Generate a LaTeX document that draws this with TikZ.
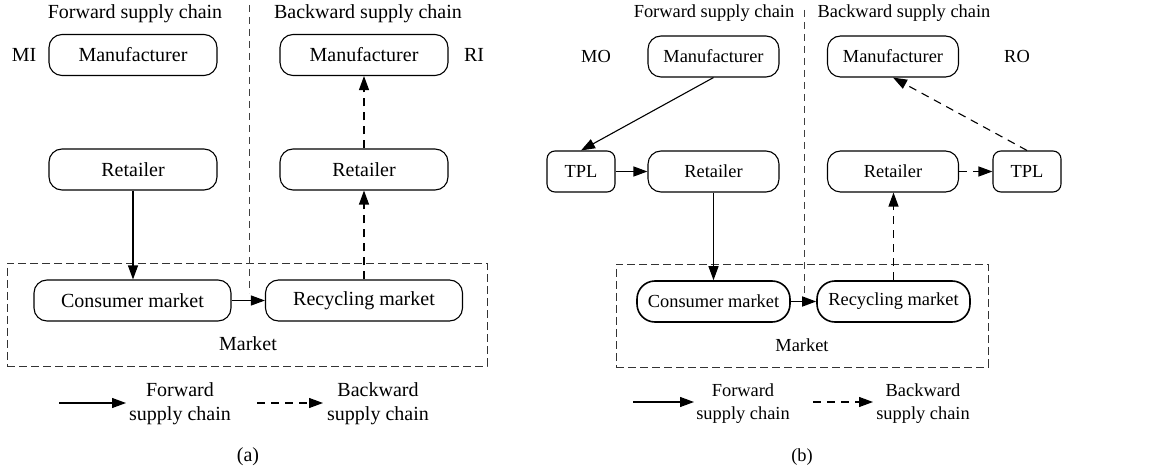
\documentclass[tikz,border=0pt]{standalone}
\usepackage{fontspec}
\setmainfont{Liberation Serif}
\usetikzlibrary{arrows.meta}
\begin{document}
\begin{tikzpicture}[x=0.5pt,y=-0.5pt,
  every node/.style={inner sep=0pt},
  fa/.style={font=\fontsize{10}{12}\selectfont},
  fb/.style={font=\fontsize{9.2}{11.5}\selectfont},
  boxa/.style={fa, draw, line width=0.55pt, rounded corners=6.5pt, minimum width=84pt, minimum height=20.5pt},
  mkta/.style={boxa, minimum width=98.5pt},
  boxb/.style={fb, draw, line width=0.55pt, rounded corners=6.5pt, minimum width=65.5pt, minimum height=20.5pt},
  tplbox/.style={boxb, rounded corners=4pt, minimum width=34pt},
  mktb/.style={boxb, line width=0.8pt, rounded corners=9pt, minimum width=76.5pt},
  arr/.style={-{Triangle[length=7pt,width=5pt]}, line width=0.55pt},
  darr/.style={arr, dash pattern=on 4pt off 3pt},
  sepline/.style={dash pattern=on 3.5pt off 2.5pt, line width=0.5pt, draw=black!75},
  mktframe/.style={draw=black!80, dash pattern=on 4pt off 2pt, line width=0.5pt, minimum height=51.5pt},
]
\useasboundingbox (0,0) rectangle (1155,470);

% ---------------- panel (a)
\node[fa] (ta1) at (135,13.5) {Forward supply chain};
\node[fa] (ta2) at (368,13.5) {Backward supply chain};
\node[fa] (mi) at (24,55) {MI};
\node[boxa] (ma1) at (133,55) {Manufacturer};
\node[boxa] (ma2) at (364,55) {Manufacturer};
\node[fa] (ri) at (474,55) {RI};
\node[boxa] (ra1) at (133,169.5) {Retailer};
\node[boxa] (ra2) at (364,169.5) {Retailer};
\node[mktframe, minimum width=240pt] (mka) at (247,314.5) {};
\node[mkta] (ca) at (132.5,300.5) {Consumer market};
\node[mkta] (rca) at (364,300.5) {Recycling market};
\node[fa] (mla) at (248,344) {Market};
\coordinate (sa1) at (249,5);
\coordinate (sa2) at (249,293);
\draw[sepline] (sa1) -- (sa2);
\draw[arr] (ra1.south) -- (ra1.south |- ca.north);
\draw[arr] (ca) -- (rca);
\draw[darr] (rca.north) -- (ra2.south);
\draw[darr] (ra2.north) -- (ma2.south);
\coordinate (la1s) at (59,403);
\coordinate (la1e) at (126,403);
\draw[arr] (la1s) -- (la1e);
\node[fa, align=center] (lta1) at (180,404) {Forward\\supply chain};
\coordinate (la2s) at (257,403);
\coordinate (la2e) at (323,403);
\draw[darr] (la2s) -- (la2e);
\node[fa, align=center] (lta2) at (378,404) {Backward\\supply chain};
\node[fa] (capa) at (248,457) {(a)};

% ---------------- panel (b)
\node[fb] (tb1) at (714,13.5) {Forward supply chain};
\node[fb] (tb2) at (904,13.5) {Backward supply chain};
\node[fb] (mo) at (596,57) {MO};
\node[fb] (ro) at (1017,57) {RO};
\node[boxb] (mb1) at (713.5,56.5) {Manufacturer};
\node[boxb] (mb2) at (893,56.5) {Manufacturer};
\node[tplbox] (tpl1) at (581,171.5) {TPL};
\node[boxb] (rb1) at (713.5,171.5) {Retailer};
\node[boxb] (rb2) at (893,171.5) {Retailer};
\node[tplbox] (tpl2) at (1027,171.5) {TPL};
\node[mktframe, minimum width=186pt] (mkb) at (802,315.5) {};
\node[mktb] (cb) at (713.5,301.5) {Consumer market};
\node[mktb] (rcb) at (893.5,301.5) {Recycling market};
\node[fb] (mlb) at (802,345) {Market};
\coordinate (sb1) at (804,10);
\coordinate (sb2) at (804,293);
\draw[sepline] (sb1) -- (sb2);
\draw[arr] (mb1.south) -- (tpl1.north);
\draw[arr] (tpl1) -- (rb1);
\draw[arr] (rb1.south) -- (rb1.south |- cb.north);
\draw[arr, line width=0.8pt] (cb) -- (rcb);
\draw[darr] (rcb.north) -- (rcb.north |- rb2.south);
\draw[darr] (rb2) -- (tpl2);
\draw[darr] (tpl2.north) -- (mb2.south);
\coordinate (lb1s) at (633,402);
\coordinate (lb1e) at (694,402);
\draw[arr] (lb1s) -- (lb1e);
\node[fb, align=center] (ltb1) at (743,404) {Forward\\supply chain};
\coordinate (lb2s) at (813,402);
\coordinate (lb2e) at (873,402);
\draw[darr] (lb2s) -- (lb2e);
\node[fb, align=center] (ltb2) at (923,404) {Backward\\supply chain};
\node[fb] (capb) at (802,457) {(b)};
\end{tikzpicture}
\end{document}
